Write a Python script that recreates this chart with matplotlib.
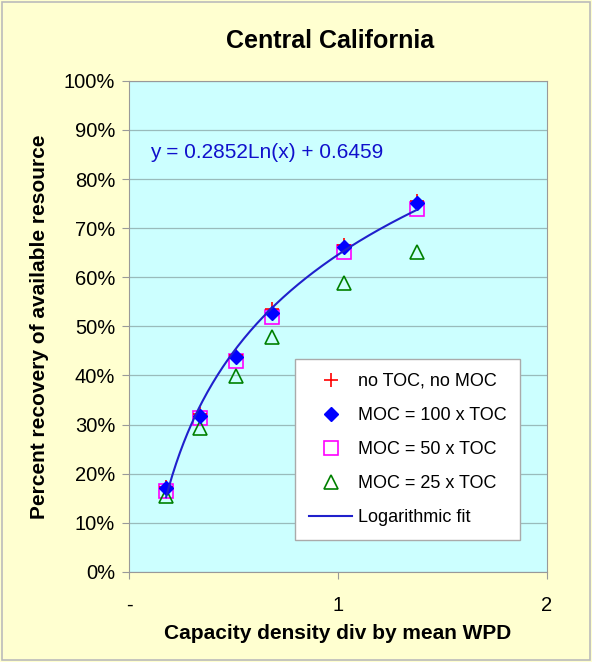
import numpy as np
import matplotlib.pyplot as plt
from matplotlib.ticker import FuncFormatter

# capacity density / mean WPD
x = [0.177, 0.34, 0.512, 0.684, 1.03, 1.376]
no_toc = [17.3, 32.2, 44.2, 53.6, 66.6, 75.6]
moc100 = [17.0, 31.8, 43.7, 52.7, 66.1, 75.2]
moc50 = [16.5, 31.3, 43.0, 52.0, 65.2, 73.9]
moc25 = [15.5, 29.3, 39.8, 47.9, 58.8, 65.1]
fit_a, fit_b = 0.2852, 0.6459

plt.rcParams['font.family'] = ['Liberation Sans', 'DejaVu Sans']

fig = plt.figure(figsize=(5.92, 6.62), dpi=100)
fig.set_facecolor('#FFFFD0')
ax = fig.add_axes([0.218, 0.136, 0.706, 0.742])
ax.set_facecolor('#CCFFFF')

xf = np.linspace(min(x), max(x), 200)
yf = (fit_a * np.log(xf) + fit_b) * 100

ax.plot(x, no_toc, linestyle='none', marker='+', color='red', ms=10, mew=1.2, label='no TOC, no MOC', zorder=4)
ax.plot(x, moc100, linestyle='none', marker='D', color='blue', ms=7, label='MOC = 100 x TOC', zorder=5)
ax.plot(x, moc50, linestyle='none', marker='s', mfc='none', mec='magenta', ms=10, mew=1.2, label='MOC = 50 x TOC', zorder=3)
ax.plot(x, moc25, linestyle='none', marker='^', mfc='none', mec='green', ms=10, mew=1.2, label='MOC = 25 x TOC', zorder=3)
ax.plot(xf, yf, color='#2020CC', lw=1.5, label='Logarithmic fit', zorder=6)

ax.set_xlim(0, 2)
ax.set_ylim(0, 100)
ax.set_yticks(np.arange(0, 101, 10))
ax.yaxis.set_major_formatter(FuncFormatter(lambda v, p: '%d%%' % v))
ax.set_xticks([0, 1, 2])
ax.set_xticklabels(['-', '1', '2'])
ax.grid(axis='y', color='#99BBBB', lw=0.9)
ax.set_axisbelow(True)
for s in ax.spines.values():
    s.set_color('#999999')
ax.tick_params(labelsize=14.5, color='#999999', length=5, pad=5)
ax.tick_params(axis='x', pad=12)

ax.text(0.1, 85.3, 'y = 0.2852Ln(x) + 0.6459', color='#1010CC', fontsize=15, va='center')

ax.set_xlabel('Capacity density div by mean WPD', fontsize=15, fontweight='bold', labelpad=7)
ax.set_ylabel('Percent recovery of available resource', fontsize=15, fontweight='bold', labelpad=11)
fig.text(0.557, 0.938, 'Central California', fontsize=18, fontweight='bold', ha='center', va='center')

leg = ax.legend(loc='lower right', bbox_to_anchor=(0.935, 0.065), fontsize=13, frameon=True,
                fancybox=False, edgecolor='#AAAAAA', framealpha=1, borderpad=0.75,
                labelspacing=0.95, handlelength=2.4, handletextpad=0.3, numpoints=1,
                borderaxespad=0)
leg.get_frame().set_linewidth(1)

fig.patches.append(plt.Rectangle((0.003, 0.003), 0.994, 0.994, transform=fig.transFigure,
                                 fill=False, edgecolor='#BBBBBB', lw=1.2))

fig.savefig('out.png', dpi=100, facecolor=fig.get_facecolor())
